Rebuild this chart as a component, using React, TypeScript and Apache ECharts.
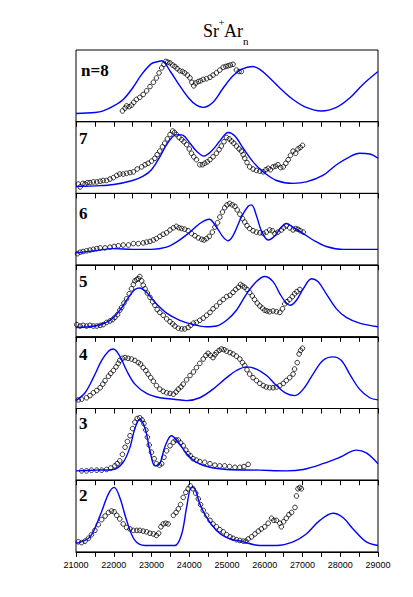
import React, { useEffect, useRef } from "react";
import * as echarts from "echarts";

const xMin = 21000;
const xMax = 29000;
const xStep = 500;
const panelLabels = ["n=8", "7", "6", "5", "4", "3", "2"];

const blue8 = [[21000,0.115],[21500,0.128],[21720,0.15],[22000,0.22],[22250,0.31],[22500,0.47],[22740,0.66],[23000,0.81],[23180,0.84],[23270,0.85],[23500,0.70],[23750,0.50],[24000,0.32],[24190,0.23],[24370,0.20],[24630,0.27],[24900,0.47],[25160,0.64],[25380,0.73],[25680,0.77],[25870,0.73],[26130,0.61],[26400,0.47],[26750,0.31],[27100,0.20],[27500,0.15],[27900,0.20],[28250,0.33],[28600,0.52],[29000,0.70]];
const circ8 = [[22230,0.15],[22300,0.19],[22340,0.22],[22410,0.21],[22470,0.23],[22530,0.27],[22600,0.31],[22690,0.34],[22780,0.38],[22870,0.43],[22960,0.49],[23050,0.55],[23130,0.61],[23200,0.68],[23270,0.75],[23330,0.80],[23380,0.84],[23430,0.83],[23490,0.82],[23560,0.79],[23620,0.77],[23680,0.74],[23750,0.71],[23820,0.70],[23880,0.68],[23950,0.65],[24020,0.61],[24070,0.55],[24120,0.50],[24170,0.54],[24240,0.56],[24300,0.57],[24370,0.59],[24460,0.60],[24550,0.62],[24630,0.65],[24720,0.68],[24810,0.72],[24900,0.76],[24970,0.77],[25030,0.78],[25090,0.79],[25160,0.80],[25250,0.72],[25320,0.70],[25380,0.70]];

const blue7 = [[21000,0.095],[21500,0.105],[22000,0.124],[22500,0.18],[22780,0.24],[23000,0.33],[23220,0.51],[23400,0.68],[23580,0.80],[23710,0.82],[23840,0.81],[24020,0.70],[24190,0.59],[24390,0.52],[24590,0.59],[24810,0.73],[25030,0.85],[25210,0.80],[25430,0.63],[25690,0.44],[25960,0.30],[26310,0.18],[26750,0.14],[27100,0.16],[27540,0.25],[27900,0.40],[28250,0.51],[28510,0.56],[28780,0.55],[29000,0.49]];
const circ7 = [[21060,0.13],[21110,0.09],[21180,0.14],[21240,0.13],[21300,0.15],[21370,0.15],[21460,0.16],[21550,0.16],[21640,0.17],[21720,0.18],[21810,0.18],[21900,0.20],[21990,0.22],[22080,0.25],[22160,0.27],[22250,0.27],[22340,0.28],[22430,0.29],[22520,0.30],[22620,0.34],[22740,0.37],[22830,0.40],[22910,0.42],[23000,0.45],[23090,0.49],[23150,0.54],[23220,0.59],[23290,0.65],[23350,0.70],[23420,0.76],[23490,0.82],[23560,0.87],[23610,0.85],[23660,0.82],[23730,0.78],[23800,0.75],[23860,0.72],[23930,0.68],[24000,0.62],[24060,0.56],[24120,0.51],[24190,0.47],[24280,0.40],[24350,0.40],[24410,0.42],[24480,0.44],[24550,0.47],[24630,0.51],[24720,0.56],[24790,0.61],[24850,0.66],[24920,0.72],[24990,0.78],[25060,0.76],[25120,0.73],[25180,0.70],[25250,0.66],[25320,0.62],[25380,0.59],[25430,0.54],[25470,0.49],[25530,0.43],[25600,0.37],[25690,0.34],[25780,0.32],[25870,0.31],[25960,0.30],[26030,0.33],[26090,0.35],[26150,0.33],[26220,0.37],[26290,0.38],[26350,0.40],[26420,0.36],[26490,0.37],[26560,0.42],[26620,0.47],[26680,0.53],[26750,0.59],[26820,0.56],[26880,0.62],[26940,0.64],[27000,0.67]];

const blue6 = [[21000,0.17],[21500,0.20],[22000,0.23],[22500,0.22],[23000,0.22],[23400,0.25],[23660,0.32],[24020,0.46],[24280,0.58],[24530,0.64],[24720,0.53],[24900,0.39],[25030,0.34],[25160,0.41],[25380,0.67],[25560,0.82],[25650,0.84],[25780,0.69],[25910,0.48],[26090,0.35],[26270,0.41],[26440,0.53],[26570,0.58],[26750,0.53],[27020,0.44],[27280,0.35],[27630,0.26],[28070,0.22],[29000,0.22]];
const circ6 = [[21040,0.16],[21110,0.18],[21190,0.19],[21280,0.20],[21370,0.21],[21460,0.22],[21550,0.23],[21640,0.24],[21770,0.24],[21900,0.25],[22010,0.26],[22120,0.27],[22250,0.28],[22390,0.28],[22520,0.30],[22650,0.30],[22780,0.31],[22870,0.32],[22960,0.33],[23050,0.35],[23130,0.37],[23220,0.40],[23310,0.43],[23400,0.45],[23490,0.49],[23580,0.52],[23660,0.54],[23730,0.52],[23800,0.51],[23880,0.50],[23970,0.48],[24060,0.44],[24150,0.41],[24240,0.38],[24330,0.36],[24390,0.35],[24460,0.37],[24530,0.40],[24610,0.46],[24680,0.53],[24750,0.59],[24810,0.67],[24880,0.74],[24940,0.80],[25000,0.84],[25070,0.86],[25140,0.84],[25210,0.82],[25270,0.77],[25340,0.71],[25410,0.65],[25470,0.60],[25530,0.55],[25600,0.51],[25690,0.48],[25780,0.46],[25870,0.45],[25960,0.44],[26040,0.46],[26130,0.49],[26200,0.48],[26270,0.44],[26350,0.46],[26440,0.49],[26500,0.52],[26570,0.55],[26660,0.52],[26750,0.49],[26820,0.51],[26880,0.50],[26940,0.48],[27020,0.46]];

const blue5 = [[21000,0.13],[21500,0.15],[21900,0.23],[22160,0.37],[22390,0.55],[22560,0.66],[22690,0.68],[22870,0.62],[23090,0.48],[23400,0.33],[23750,0.23],[24110,0.17],[24460,0.14],[24720,0.15],[24990,0.23],[25250,0.37],[25520,0.60],[25780,0.77],[26000,0.84],[26220,0.77],[26400,0.60],[26570,0.47],[26680,0.44],[26840,0.51],[27020,0.67],[27240,0.81],[27410,0.77],[27630,0.60],[27900,0.39],[28160,0.27],[28510,0.19],[29000,0.14]];
const circ5 = [[21020,0.17],[21110,0.15],[21190,0.16],[21280,0.15],[21370,0.16],[21460,0.15],[21550,0.15],[21640,0.16],[21720,0.17],[21810,0.20],[21900,0.22],[21970,0.24],[22030,0.27],[22100,0.31],[22160,0.37],[22210,0.41],[22270,0.47],[22340,0.53],[22410,0.60],[22470,0.67],[22520,0.73],[22560,0.78],[22610,0.80],[22650,0.81],[22690,0.84],[22740,0.78],[22780,0.72],[22830,0.67],[22890,0.61],[22960,0.55],[23030,0.49],[23090,0.44],[23150,0.38],[23220,0.34],[23310,0.30],[23400,0.25],[23490,0.21],[23560,0.18],[23620,0.15],[23710,0.12],[23800,0.11],[23880,0.11],[23970,0.13],[24040,0.16],[24110,0.19],[24190,0.20],[24280,0.23],[24370,0.26],[24460,0.30],[24550,0.34],[24630,0.39],[24720,0.43],[24810,0.48],[24900,0.52],[24990,0.56],[25080,0.58],[25160,0.62],[25230,0.66],[25300,0.69],[25360,0.73],[25410,0.71],[25470,0.69],[25530,0.66],[25600,0.62],[25670,0.57],[25730,0.52],[25800,0.47],[25870,0.43],[25940,0.40],[26000,0.37],[26060,0.36],[26130,0.35],[26220,0.36],[26310,0.35],[26400,0.34],[26470,0.39],[26530,0.46],[26590,0.49],[26660,0.52],[26730,0.56],[26790,0.60],[26850,0.63],[26930,0.66]];

const blue4 = [[21000,0.11],[21240,0.22],[21460,0.43],[21680,0.67],[21860,0.80],[21990,0.83],[22160,0.73],[22340,0.53],[22560,0.34],[22870,0.21],[23220,0.15],[23580,0.13],[23930,0.11],[24280,0.15],[24630,0.27],[24990,0.43],[25250,0.53],[25520,0.58],[25780,0.55],[26050,0.46],[26310,0.32],[26570,0.21],[26800,0.18],[27020,0.27],[27280,0.48],[27540,0.67],[27810,0.72],[28030,0.67],[28250,0.48],[28510,0.27],[28780,0.15],[29000,0.12]];
const circ4 = [[21060,0.12],[21150,0.13],[21280,0.15],[21370,0.18],[21460,0.22],[21550,0.25],[21640,0.29],[21710,0.34],[21770,0.39],[21860,0.45],[21920,0.49],[21990,0.53],[22060,0.58],[22120,0.63],[22160,0.67],[22230,0.70],[22300,0.71],[22380,0.70],[22470,0.69],[22560,0.67],[22650,0.64],[22710,0.62],[22780,0.57],[22850,0.53],[22910,0.48],[22980,0.43],[23050,0.38],[23130,0.32],[23220,0.27],[23310,0.24],[23400,0.22],[23490,0.21],[23580,0.20],[23650,0.23],[23710,0.27],[23780,0.30],[23840,0.34],[23930,0.40],[24020,0.46],[24110,0.51],[24190,0.57],[24280,0.63],[24370,0.69],[24440,0.74],[24500,0.77],[24560,0.74],[24630,0.71],[24680,0.75],[24720,0.78],[24790,0.81],[24850,0.83],[24920,0.82],[24990,0.80],[25080,0.78],[25160,0.76],[25250,0.73],[25340,0.69],[25410,0.64],[25470,0.60],[25530,0.54],[25600,0.48],[25690,0.43],[25780,0.39],[25870,0.35],[25960,0.32],[26040,0.30],[26130,0.29],[26220,0.29],[26310,0.30],[26400,0.32],[26490,0.35],[26570,0.39],[26660,0.43],[26750,0.48],[26790,0.55],[26860,0.64],[26910,0.76],[26950,0.81],[27000,0.84]];

const blue3 = [[21000,0.13],[21500,0.14],[21990,0.15],[22250,0.25],[22430,0.46],[22560,0.72],[22690,0.85],[22830,0.72],[22960,0.41],[23090,0.20],[23220,0.23],[23350,0.46],[23530,0.62],[23710,0.53],[23930,0.37],[24190,0.25],[24550,0.18],[24990,0.15],[25870,0.14],[26570,0.13],[27020,0.15],[27540,0.23],[27990,0.32],[28430,0.42],[28690,0.38],[29000,0.23]];
const circ3 = [[21150,0.13],[21280,0.13],[21410,0.14],[21550,0.14],[21680,0.14],[21810,0.15],[21920,0.17],[22030,0.20],[22090,0.23],[22160,0.27],[22230,0.36],[22300,0.46],[22360,0.54],[22430,0.62],[22500,0.72],[22560,0.81],[22620,0.86],[22690,0.87],[22750,0.84],[22800,0.79],[22850,0.70],[22890,0.60],[22940,0.49],[23000,0.39],[23070,0.30],[23130,0.23],[23210,0.21],[23270,0.23],[23330,0.32],[23400,0.41],[23490,0.48],[23580,0.53],[23650,0.56],[23710,0.56],[23770,0.52],[23840,0.48],[23910,0.42],[23970,0.37],[24030,0.34],[24100,0.30],[24190,0.28],[24280,0.26],[24410,0.25],[24550,0.23],[24680,0.21],[24810,0.20],[24940,0.20],[25070,0.19],[25210,0.18],[25340,0.18],[25450,0.19],[25560,0.22]];

const blue2 = [[21000,0.12],[21370,0.21],[21640,0.51],[21860,0.81],[22010,0.90],[22160,0.76],[22340,0.44],[22560,0.16],[22830,0.09],[23220,0.09],[23620,0.09],[23800,0.25],[23930,0.62],[24060,0.90],[24150,0.88],[24280,0.67],[24460,0.48],[24720,0.30],[24990,0.20],[25430,0.14],[25870,0.09],[26310,0.09],[26750,0.14],[27100,0.25],[27460,0.44],[27810,0.54],[28070,0.48],[28340,0.32],[28690,0.14],[29000,0.09]];
const circ2 = [[21060,0.14],[21150,0.13],[21240,0.15],[21330,0.19],[21410,0.24],[21500,0.30],[21590,0.38],[21680,0.45],[21770,0.50],[21860,0.55],[21940,0.57],[22010,0.56],[22080,0.51],[22160,0.46],[22250,0.39],[22340,0.34],[22430,0.32],[22520,0.30],[22610,0.30],[22690,0.30],[22780,0.29],[22870,0.28],[22960,0.26],[23050,0.25],[23130,0.23],[23190,0.26],[23250,0.35],[23310,0.39],[23380,0.40],[23440,0.39],[23580,0.51],[23650,0.55],[23710,0.60],[23770,0.66],[23840,0.76],[23910,0.83],[23970,0.88],[24030,0.92],[24100,0.88],[24170,0.82],[24240,0.74],[24300,0.66],[24370,0.58],[24460,0.51],[24550,0.44],[24630,0.39],[24720,0.35],[24810,0.31],[24900,0.28],[24990,0.24],[25080,0.21],[25160,0.19],[25250,0.17],[25340,0.16],[25430,0.15],[25500,0.15],[25560,0.18],[25650,0.21],[25740,0.25],[25830,0.29],[25910,0.32],[26000,0.35],[26090,0.40],[26180,0.47],[26240,0.44],[26310,0.44],[26400,0.40],[26440,0.35],[26500,0.42],[26570,0.47],[26640,0.52],[26710,0.55],[26800,0.62],[26840,0.78],[26880,0.88],[26930,0.90],[26970,0.88]];

const blueSeries = [blue8, blue7, blue6, blue5, blue4, blue3, blue2];
const circleSeries = [circ8, circ7, circ6, circ5, circ4, circ3, circ2];
const labelCenters = [70.5, 138, 213, 281, 354, 423, 495.5];

export default function App() {
  const ref = useRef<HTMLDivElement>(null);
  useEffect(() => {
    const chart = echarts.init(ref.current!, null, { renderer: "svg" });
    const n = panelLabels.length;
    const top0 = 50;
    const h = 71.7;
    const grid = panelLabels.map((_, i) => ({
      left: 76,
      width: 302,
      top: top0 + i * h,
      height: h,
      show: true,
      borderColor: "#000",
      borderWidth: 1,
      backgroundColor: "transparent",
    }));
    const xAxis = panelLabels.map((_, i) => ({
      type: "value",
      gridIndex: i,
      min: xMin,
      max: xMax,
      interval: xStep,
      axisLine: { show: true, lineStyle: { color: "#000", width: 1 } },
      axisTick: { show: true, inside: false, length: 5, lineStyle: { color: "#000", width: 1 } },
      splitLine: { show: false },
      axisLabel: {
        show: i === n - 1,
        margin: 9,
        color: "#000",
        fontFamily: "Liberation Sans, Arial, sans-serif",
        fontSize: 9,
        formatter: (v: number) => (v % 1000 === 0 ? String(v) : ""),
      },
    }));
    const yAxis = panelLabels.map((_, i) => ({
      type: "value",
      gridIndex: i,
      min: 0,
      max: 1,
      show: false,
    }));
    const series: any[] = [];
    panelLabels.forEach((_, i) => {
      series.push({
        type: "scatter",
        xAxisIndex: i,
        yAxisIndex: i,
        data: circleSeries[i],
        symbol: "circle",
        symbolSize: 4.6,
        itemStyle: { color: "rgba(255,255,255,0)", borderColor: "#000", borderWidth: 1 },
        z: 2,
      });
      series.push({
        type: "line",
        xAxisIndex: i,
        yAxisIndex: i,
        data: blueSeries[i],
        showSymbol: false,
        smooth: 0.35,
        lineStyle: { color: "#0000ff", width: 1.4 },
        z: 3,
      });
    });
    const serif = "Liberation Serif, Times New Roman, serif";
    const graphic: any[] = [
      { type: "text", x: 203, y: 31, style: { text: "Sr", font: `18px ${serif}`, fill: "#000", textAlign: "left", textVerticalAlign: "middle" } },
      { type: "text", x: 218.5, y: 22, style: { text: "+", font: `11px ${serif}`, fill: "#000", textAlign: "left", textVerticalAlign: "middle" } },
      { type: "text", x: 224, y: 31, style: { text: "Ar", font: `18px ${serif}`, fill: "#000", textAlign: "left", textVerticalAlign: "middle" } },
      { type: "text", x: 243, y: 40.5, style: { text: "n", font: `11px ${serif}`, fill: "#000", textAlign: "left", textVerticalAlign: "middle" } },
    ];
    panelLabels.forEach((lab, i) => {
      graphic.push({
        type: "text",
        x: i === 0 ? 81 : 79,
        y: labelCenters[i],
        z: 10,
        style: { text: lab, font: `bold 17px ${serif}`, fill: "#000", textAlign: "left", textVerticalAlign: "middle" },
      });
    });
    chart.setOption({
      animation: false,
      backgroundColor: "#fff",
      grid,
      xAxis,
      yAxis,
      series,
      graphic,
    });
    return () => chart.dispose();
  }, []);
  return <div ref={ref} style={{ position: "fixed", left: 0, top: 0, width: 413, height: 597 }} />;
}
